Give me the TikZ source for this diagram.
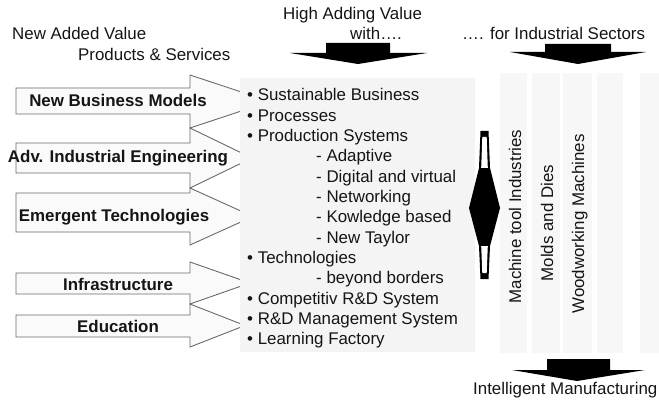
\documentclass[tikz,border=0pt]{standalone}
\usepackage{fontspec}
\setmainfont{Liberation Sans}
\usetikzlibrary{positioning, calc}

\definecolor{boxgray}{HTML}{F4F4F4}
\definecolor{colgray}{HTML}{F7F7F7}
\definecolor{edgegray}{HTML}{6A6A6A}
\definecolor{inkgray}{HTML}{151515}

\tikzset{
    lbl/.style={
        anchor=base west,
        inner sep=0pt,
        text=inkgray,
        font=\fontsize{16.9}{20.3}\selectfont
    },
    boldlbl/.style={
        lbl,
        anchor=base,
        font=\fontsize{16.9}{20.3}\selectfont\bfseries
    },
    sectorlbl/.style={
        lbl,
        anchor=base,
        rotate=90
    },
    inarrow/.style={
        draw=edgegray,
        fill=white!98!black,
        line width=0.9pt,
        line join=miter
    },
    blockarrow/.style={
        fill=black,
        draw=none
    },
    sectorcol/.style={
        fill=colgray,
        draw=none
    }
}

\begin{document}
\begin{tikzpicture}[x=1pt, y=-1pt]

\useasboundingbox (0,0) rectangle (659,401);

% headings
\node[lbl] (added) at (12,40) {New Added Value};
\node[lbl] (services) at (78,61) {Products \& Services};
\node[lbl] (adding) at (283,20) {High Adding Value};
\node[lbl] (with) at (350,40) {with….};
\node[lbl] (sectors) at (462,40) {…. for Industrial Sectors};

% input arrows: shaft top/bottom, head top/bottom, tip x
\foreach \st/\sb/\ht/\hb/\tx in {88/114/75/128/270, 143/173/128/188/252,
                                 193/232/188/245/253, 273/294/262/304/250,
                                 315/337/304/347/245}
    \draw[inarrow] (16,\st) -- (190,\st) -- (190,\ht) -- (\tx,{(\ht+\hb)/2})
        -- (190,\hb) -- (190,\sb) -- (16,\sb) -- cycle;

\node[boldlbl] (models) at (118,107) {New Business Models};
\node[boldlbl] (engineering) at (118,163) {Adv. Industrial Engineering};
\node[boldlbl] (emergent) at (114,222) {Emergent Technologies};
\node[boldlbl] (infra) at (118,290) {Infrastructure};
\node[boldlbl] (education) at (118,332) {Education};

% list of value fields
\fill[boxgray] (240,78) rectangle (475,352);

\foreach \dx/\txt [count=\i] in {
    247/\textbullet\ Sustainable Business,
    247/\textbullet\ Processes,
    247/\textbullet\ Production Systems,
    316/- Adaptive,
    316/- Digital and virtual,
    316/- Networking,
    316/- Kowledge based,
    316/- New Taylor,
    247/\textbullet\ Technologies,
    316/- beyond borders,
    247/\textbullet\ Competitiv R\&D System,
    247/\textbullet\ R\&D Management System,
    247/\textbullet\ Learning Factory}
    \node[lbl] (item\i) at (\dx,{101+20.33*(\i-1)}) {\txt};

% sector columns
\foreach \xa/\xb in {500/527, 532/560, 563/592, 597/623, 640/659}
    \fill[sectorcol] (\xa,73) rectangle (\xb,353);

\node[sectorlbl] (machtool) at (521,216.5) {Machine tool Industries};
\node[sectorlbl] (molds) at (553,223) {Molds and Dies};
\node[sectorlbl] (woodwork) at (584,224) {Woodworking Machines};

% double arrow between list and sectors
\fill[black] (480.5,131) -- (479,168) -- (469,208) -- (479,246) -- (480.5,279)
    -- (488.5,279) -- (490,246) -- (500,208) -- (490,168) -- (488.5,131) -- cycle;
\fill[white] (482.3,137) -- (486.7,137) -- (487.8,168) -- (481.2,168) -- cycle;
\fill[white] (481.2,246) -- (487.8,246) -- (486.7,273) -- (482.3,273) -- cycle;

% block arrows
\fill[blockarrow] (326,43) -- (390,43) -- (390,53) -- (427,53) -- (358,64)
    -- (290,53) -- (326,53) -- cycle;
\fill[blockarrow] (545,44) -- (611,44) -- (611,52) -- (646,52) -- (578,64)
    -- (510,52) -- (545,52) -- cycle;
\fill[blockarrow] (547,359) -- (610,359) -- (610,370) -- (645,370) -- (577,381)
    -- (512,370) -- (547,370) -- cycle;

\node[lbl] (manufacturing) at (473,394) {Intelligent Manufacturing};

\end{tikzpicture}
\end{document}
